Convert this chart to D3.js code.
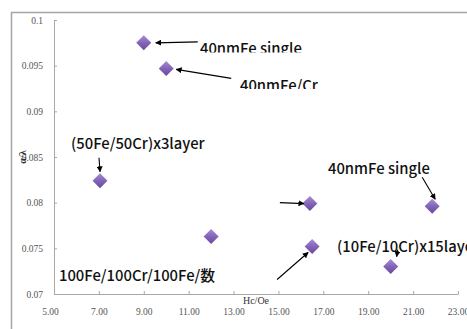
<!DOCTYPE html>
<html>
<head>
<meta charset="utf-8">
<script src="https://cdn.jsdelivr.net/npm/d3@7"></script>
<style>
  body { margin: 0; background: #fff; }
  .tick text { font-family: "Liberation Serif", "DejaVu Serif", serif; fill: #555; }
  .note { font-family: "Noto Sans CJK JP", "Noto Sans", sans-serif; font-size: 14.8px; font-weight: 500; fill: #111; }
</style>
</head>
<body>
<div id="chart"></div>
<script>
// data
var hc = [9.0, 10.0, 7.05, 12.0, 16.4, 16.5, 20.0, 21.85];
var ratio = [0.0975, 0.0947, 0.0824, 0.0763, 0.0799, 0.0752, 0.0730, 0.0796];
var xTicks = [5, 7, 9, 11, 13, 15, 17, 19, 21, 23];
var yTicks = [0.07, 0.075, 0.08, 0.085, 0.09, 0.095, 0.1];
var noteTexts = ["40nmFe single", "40nmFe/Cr", "(50Fe/50Cr)x3layer", "40nmFe single",
                 "(10Fe/10Cr)x15layer", "100Fe/100Cr/100Fe/数"];

var width = 467, height = 329;

var svg = d3.select("#chart").append("svg")
    .attr("width", width)
    .attr("height", height);

// outer chart frame (runs off the right / bottom edge)
svg.append("rect")
    .attr("x", 11.5).attr("y", 12.5)
    .attr("width", 480).attr("height", 330)
    .attr("fill", "none")
    .attr("stroke", "#a5a5a5")
    .attr("stroke-width", 1.5);

var x = d3.scaleLinear().domain([5, 23]).range([54, 458]);
var y = d3.scaleLinear().domain([0.07, 0.1]).range([294, 20]);

// axes
var xAxis = d3.axisBottom(x)
    .tickValues(xTicks)
    .tickFormat(d3.format(".2f"))
    .tickSizeInner(-3)
    .tickSizeOuter(0)
    .tickPadding(14);

svg.append("g")
    .attr("class", "x axis")
    .attr("transform", "translate(0," + y(0.07) + ")")
    .call(xAxis);

var yAxis = d3.axisLeft(y)
    .tickValues(yTicks)
    .tickFormat(function(d) { return String(+d.toFixed(3)); })
    .tickSizeInner(-3)
    .tickSizeOuter(0)
    .tickPadding(11);

svg.append("g")
    .attr("class", "y axis")
    .attr("transform", "translate(" + x(5) + ",0)")
    .call(yAxis);

svg.selectAll(".axis path, .axis line").attr("stroke", "#a8a8a8");
svg.selectAll(".axis text").style("font-size", "9.5px");
// first x label sits under the y axis
svg.selectAll(".x.axis .tick text").filter(function(d) { return d === 5; }).attr("dx", -4);

// axis titles
svg.append("text")
    .attr("transform", "translate(26,157) rotate(-90)")
    .attr("text-anchor", "middle")
    .style("font-family", "Liberation Serif, serif")
    .style("font-size", "10px")
    .style("font-weight", "bold")
    .style("fill", "#333")
    .text("α/λ");

svg.append("text")
    .attr("x", 256).attr("y", 304)
    .attr("text-anchor", "middle")
    .style("font-family", "Liberation Serif, serif")
    .style("font-size", "10px")
    .style("fill", "#333")
    .text("Hc/Oe");

// diamond gradient
var defs = svg.append("defs");
var grad = defs.append("linearGradient")
    .attr("id", "dia").attr("x1", 0).attr("y1", 0).attr("x2", 0).attr("y2", 1);
grad.append("stop").attr("offset", "0%").attr("stop-color", "#a78bd8");
grad.append("stop").attr("offset", "50%").attr("stop-color", "#8464b8");
grad.append("stop").attr("offset", "100%").attr("stop-color", "#6a4a9c");

defs.append("marker")
    .attr("id", "arrow")
    .attr("viewBox", "0 0 10 10")
    .attr("refX", 9).attr("refY", 5)
    .attr("markerWidth", 6).attr("markerHeight", 6)
    .attr("markerUnits", "userSpaceOnUse")
    .attr("orient", "auto")
  .append("path")
    .attr("d", "M0,0L10,5L0,10z")
    .attr("fill", "#000");

var points = hc.map(function(d, i) { return {x: d, y: ratio[i]}; });

svg.append("g").selectAll("path")
    .data(points)
    .enter()
    .append("path")
    .attr("transform", function(d) { return "translate(" + x(d.x) + "," + y(d.y) + ")"; })
    .attr("d", "M0,-7.5L7.5,0L0,7.5L-7.5,0Z")
    .attr("fill", "url(#dia)");

// arrows: start offset (px) from the point they point at
var arrows = [
  {p: 0, dx: 54, dy: -1, ex: 12, ey: 0},
  {p: 1, dx: 65, dy: 10, ex: 10, ey: 1},
  {p: 2, dx: -1, dy: -23, ex: 0, ey: -9},
  {p: 4, dx: -30, dy: -1, ex: -6, ey: 0},
  {p: 7, dx: -10, dy: -29, ex: 3, ey: -7},
  {p: 5, dx: -35, dy: 33, ex: -4, ey: 6},
  {p: 6, dx: 7, dy: -17, ex: 6, ey: -10}
];

svg.append("g").selectAll("line")
    .data(arrows)
    .enter()
    .append("line")
    .attr("x1", function(d) { return x(points[d.p].x) + d.dx; })
    .attr("y1", function(d) { return y(points[d.p].y) + d.dy; })
    .attr("x2", function(d) { return x(points[d.p].x) + d.ex; })
    .attr("y2", function(d) { return y(points[d.p].y) + d.ey; })
    .attr("stroke", "#000")
    .attr("stroke-width", 1.1)
    .attr("marker-end", "url(#arrow)");

// annotation text boxes, some clipped like the original
var clips = [[195, 30, 130, 22.5], [235, 70, 130, 19], null, null, null, null];
var notePos = [[200, 54], [240, 91], [71, 149], [328, 174], [337, 252], [59, 281]];

clips.forEach(function(c, i) {
  if (!c) return;
  defs.append("clipPath").attr("id", "clip" + i)
    .append("rect").attr("x", c[0]).attr("y", c[1]).attr("width", c[2]).attr("height", c[3]);
});

svg.append("g").selectAll("text")
    .data(noteTexts)
    .enter()
    .append("text")
    .attr("class", "note")
    .attr("x", function(d, i) { return notePos[i][0]; })
    .attr("y", function(d, i) { return notePos[i][1]; })
    .attr("clip-path", function(d, i) { return clips[i] ? "url(#clip" + i + ")" : null; })
    .text(function(d) { return d; });
</script>
</body>
</html>
